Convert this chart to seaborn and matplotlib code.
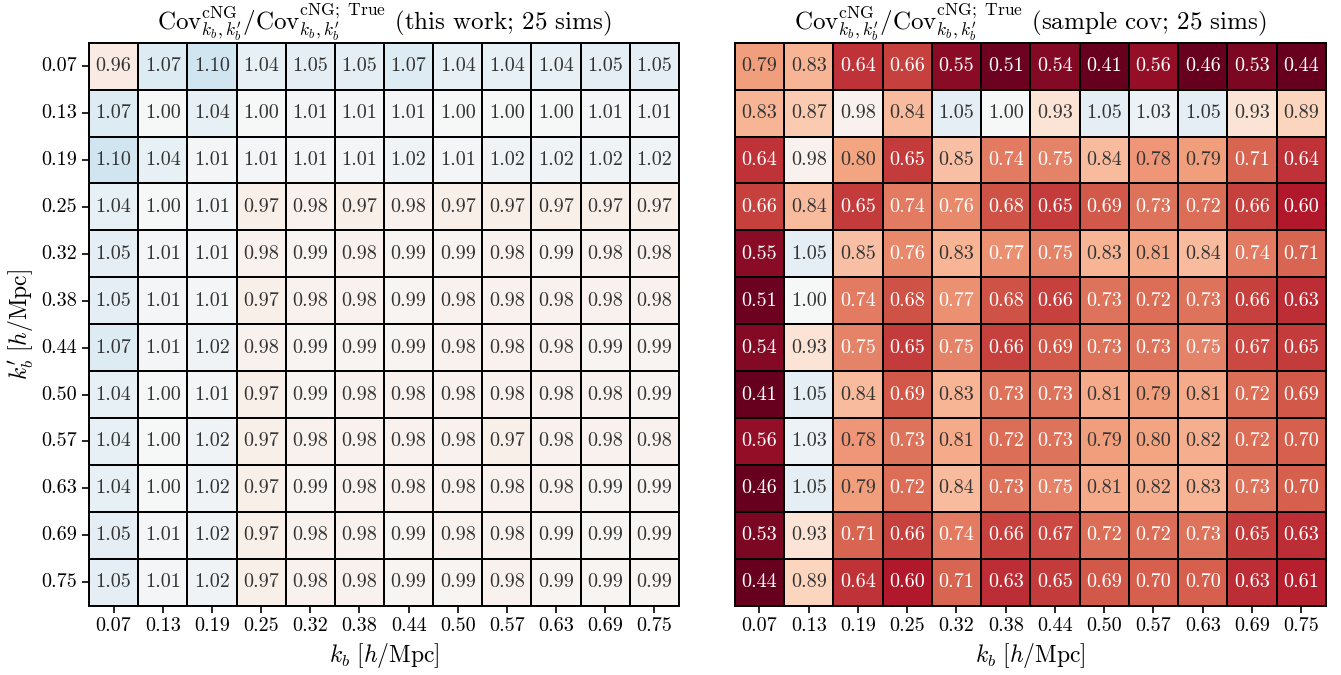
import matplotlib
matplotlib.use('Agg')
import matplotlib.pyplot as plt
import seaborn as sns
import numpy as np

# bins in k [h/Mpc]
k_labels = ['0.07', '0.13', '0.19', '0.25', '0.32', '0.38',
            '0.44', '0.50', '0.57', '0.63', '0.69', '0.75']

ratio_this_work = [
    [0.96, 1.07, 1.10, 1.04, 1.05, 1.05, 1.07, 1.04, 1.04, 1.04, 1.05, 1.05],
    [1.07, 1.00, 1.04, 1.00, 1.01, 1.01, 1.01, 1.00, 1.00, 1.00, 1.01, 1.01],
    [1.10, 1.04, 1.01, 1.01, 1.01, 1.01, 1.02, 1.01, 1.02, 1.02, 1.02, 1.02],
    [1.04, 1.00, 1.01, 0.97, 0.98, 0.97, 0.98, 0.97, 0.97, 0.97, 0.97, 0.97],
    [1.05, 1.01, 1.01, 0.98, 0.99, 0.98, 0.99, 0.99, 0.98, 0.99, 0.98, 0.98],
    [1.05, 1.01, 1.01, 0.97, 0.98, 0.98, 0.99, 0.98, 0.98, 0.98, 0.98, 0.98],
    [1.07, 1.01, 1.02, 0.98, 0.99, 0.99, 0.99, 0.98, 0.98, 0.98, 0.99, 0.99],
    [1.04, 1.00, 1.01, 0.97, 0.99, 0.98, 0.98, 0.98, 0.98, 0.98, 0.98, 0.99],
    [1.04, 1.00, 1.02, 0.97, 0.98, 0.98, 0.98, 0.98, 0.97, 0.98, 0.98, 0.98],
    [1.04, 1.00, 1.02, 0.97, 0.99, 0.98, 0.98, 0.98, 0.98, 0.98, 0.99, 0.99],
    [1.05, 1.01, 1.02, 0.97, 0.98, 0.98, 0.99, 0.98, 0.98, 0.99, 0.99, 0.99],
    [1.05, 1.01, 1.02, 0.97, 0.98, 0.98, 0.99, 0.99, 0.98, 0.99, 0.99, 0.99],
]

ratio_sample_cov = [
    [0.79, 0.83, 0.64, 0.66, 0.55, 0.51, 0.54, 0.41, 0.56, 0.46, 0.53, 0.44],
    [0.83, 0.87, 0.98, 0.84, 1.05, 1.00, 0.93, 1.05, 1.03, 1.05, 0.93, 0.89],
    [0.64, 0.98, 0.80, 0.65, 0.85, 0.74, 0.75, 0.84, 0.78, 0.79, 0.71, 0.64],
    [0.66, 0.84, 0.65, 0.74, 0.76, 0.68, 0.65, 0.69, 0.73, 0.72, 0.66, 0.60],
    [0.55, 1.05, 0.85, 0.76, 0.83, 0.77, 0.75, 0.83, 0.81, 0.84, 0.74, 0.71],
    [0.51, 1.00, 0.74, 0.68, 0.77, 0.68, 0.66, 0.73, 0.72, 0.73, 0.66, 0.63],
    [0.54, 0.93, 0.75, 0.65, 0.75, 0.66, 0.69, 0.73, 0.73, 0.75, 0.67, 0.65],
    [0.41, 1.05, 0.84, 0.69, 0.83, 0.73, 0.73, 0.81, 0.79, 0.81, 0.72, 0.69],
    [0.56, 1.03, 0.78, 0.73, 0.81, 0.72, 0.73, 0.79, 0.80, 0.82, 0.72, 0.70],
    [0.46, 1.05, 0.79, 0.72, 0.84, 0.73, 0.75, 0.81, 0.82, 0.83, 0.73, 0.70],
    [0.53, 0.93, 0.71, 0.66, 0.74, 0.66, 0.67, 0.72, 0.72, 0.73, 0.65, 0.63],
    [0.44, 0.89, 0.64, 0.60, 0.71, 0.63, 0.65, 0.69, 0.70, 0.70, 0.63, 0.61],
]

# computer modern look without latex
plt.rcParams['font.family'] = 'serif'
plt.rcParams['font.serif'] = ['cmr10', 'DejaVu Serif']
plt.rcParams['mathtext.fontset'] = 'cm'
plt.rcParams['axes.unicode_minus'] = False

fig = plt.figure(figsize=(13.41, 6.75), dpi=100)
ax1 = fig.add_axes([0.0664, 0.1027, 0.4399, 0.834])
ax2 = fig.add_axes([0.548, 0.1027, 0.4407, 0.834])

cov_str = r"$\mathrm{Cov}^{\mathrm{cNG}}_{k_b,k_b'}/\mathrm{Cov}^{\mathrm{cNG;\ True}}_{k_b,k_b'}$"
titles = [cov_str + ' (this work; 25 sims)', cov_str + ' (sample cov; 25 sims)']

for ax, mat, title in zip([ax1, ax2], [ratio_this_work, ratio_sample_cov], titles):
    sns.heatmap(np.array(mat), ax=ax, cmap='RdBu', vmin=0.5, vmax=1.5, center=1.0,
                annot=True, fmt='.2f', annot_kws={'size': 14.5},
                linewidths=1.2, linecolor='black', cbar=False,
                xticklabels=k_labels, yticklabels=k_labels)
    # white text only on the darker reds
    for t in ax.texts:
        v = float(t.get_text())
        t.set_color('white' if v < 0.775 else '#333333')
    for s in ax.spines.values():
        s.set_visible(True)
        s.set_color('black')
        s.set_linewidth(1.4)
    ax.set_title(title, fontsize=18, pad=5)
    ax.set_xlabel(r'$k_b\ [h/\mathrm{Mpc}]$', fontsize=17, labelpad=4)
    ax.tick_params(axis='both', labelsize=14.5, length=5, width=1.2)
    ax.tick_params(axis='x', rotation=0)
    ax.tick_params(axis='y', rotation=0)

ax1.set_ylabel(r"$k_b'\ [h/\mathrm{Mpc}]$", fontsize=17)
ax2.set_yticks([])

fig.savefig('out.png', dpi=100)
